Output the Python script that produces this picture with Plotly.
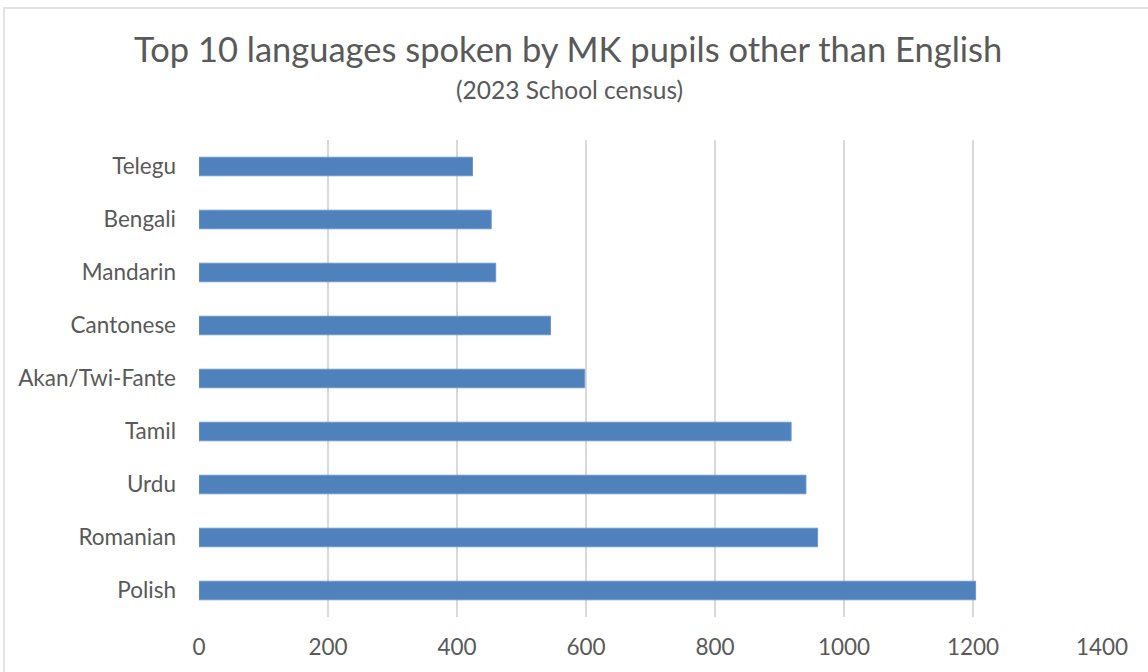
import plotly.graph_objects as go

languages = ["Polish", "Romanian", "Urdu", "Tamil", "Akan/Twi-Fante",
             "Cantonese", "Mandarin", "Bengali", "Telegu"]
pupils = [1204, 959, 941, 918, 598, 545, 460, 453, 424]

title_text = "Top 10 languages spoken by MK pupils other than English"
subtitle_text = "(2023 School census)"

W, H = 1148, 672
L, R, T, B = 199, 46, 140, 55
pw, ph = W - L - R, H - T - B

fig = go.Figure(go.Bar(
    x=pupils, y=languages, orientation="h",
    marker=dict(color="#4f81bd", line=dict(color="#6d96c9", width=1)),
    hoverinfo="x+y",
))

font = "Lato, Open Sans, sans-serif"
grey = "#595959"

fig.update_layout(
    width=W, height=H,
    margin=dict(l=L, r=R, t=T, b=B),
    paper_bgcolor="white", plot_bgcolor="white",
    bargap=0.65,
    showlegend=False,
    font=dict(family=font, color=grey),
    xaxis=dict(range=[0, 1400], dtick=200, showgrid=True, gridcolor="#d9d9d9",
               gridwidth=1.5, zeroline=False, showline=False, ticks="",
               tickfont=dict(size=22.5, color=grey), ticklabelstandoff=14,
               fixedrange=True),
    yaxis=dict(type="category", showgrid=False, zeroline=False, showline=False,
               ticks="", tickfont=dict(size=22.5, color=grey),
               ticklabelstandoff=22, fixedrange=True),
    annotations=[
        dict(text=title_text, xref="paper", yref="paper",
             x=(568 - L) / pw, y=(H - B - 49) / ph, xanchor="center", yanchor="middle",
             showarrow=False, font=dict(size=34.5, color=grey, family=font)),
        dict(text=subtitle_text, xref="paper", yref="paper",
             x=(569 - L) / pw, y=(H - B - 90) / ph, xanchor="center", yanchor="middle",
             showarrow=False, font=dict(size=24.5, color=grey, family=font)),
    ],
    shapes=[
        dict(type="rect", xref="paper", yref="paper",
             x0=(4 - L) / pw, x1=(W + 5 - L) / pw,
             y0=(H - B - (H + 5)) / ph, y1=(H - B - 8) / ph,
             line=dict(color="#d9d9d9", width=1.5), fillcolor="rgba(0,0,0,0)",
             layer="below"),
    ],
)

fig.write_html("out.html", config={"displayModeBar": False},
               post_script="document.body.style.margin='0';document.body.style.overflow='hidden';")
